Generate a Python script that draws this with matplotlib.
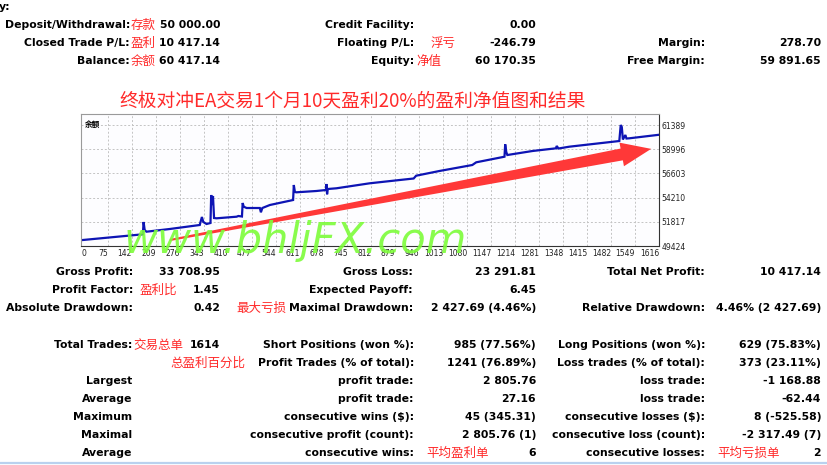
import matplotlib
matplotlib.use('Agg')
import matplotlib.pyplot as plt
from matplotlib.patches import Polygon
from matplotlib.lines import Line2D

W, H = 827, 465

# ── balance curve ─────────────────────────────────────────────────────────────
trades = [0, 173, 175, 178, 183, 248, 332, 338, 342, 351, 362, 364, 367, 369,
          372, 379, 435, 440, 450, 452, 455, 463, 500, 503, 507, 528, 593, 595,
          598, 602, 658, 685, 686, 688, 690, 714, 807, 891, 930, 937, 1002,
          1094, 1105, 1184, 1186, 1189, 1192, 1262, 1328, 1330, 1335, 1365,
          1505, 1509, 1512, 1515, 1522, 1525, 1533, 1614]
balance = [50000, 50581, 51798, 51006, 50838, 51105, 51501, 52292, 51798,
           51600, 51699, 54468, 53479, 54369, 52193, 52163, 52322, 52391,
           52342, 53677, 53311, 53182, 53182, 52757, 53182, 53479, 53973,
           55457, 54765, 54735, 54864, 54963, 55556, 54537, 55062, 55131,
           55625, 55951, 56100, 56377, 56842, 57435, 57702, 58256, 59483,
           58721, 58424, 58819, 59086, 59314, 59067, 59245, 59808, 61391,
           61193, 59957, 60402, 60056, 60076, 60417]

x_ticks = [0] + list(range(75, 1617, 67))
y_ticks = [49424, 51817, 54210, 56603, 58996, 61389]

title = '终极对冲EA交易1个月10天盈利20%的盈利净值图和结果'

# ── report texts ──────────────────────────────────────────────────────────────
top_labels_l = ['Deposit/Withdrawal:', 'Closed Trade P/L:', 'Balance:']
top_notes_l = ['存款', '盈利', '余额']
top_values_l = ['50 000.00', '10 417.14', '60 417.14']
top_labels_m = ['Credit Facility:', 'Floating P/L:', 'Equity:']
top_values_m = ['0.00', '-246.79', '60 170.35']
top_labels_r = ['', 'Margin:', 'Free Margin:']
top_values_r = ['', '278.70', '59 891.65']

mid_labels_l = ['Gross Profit:', 'Profit Factor:', 'Absolute Drawdown:']
mid_values_l = ['33 708.95', '1.45', '0.42']
mid_labels_m = ['Gross Loss:', 'Expected Payoff:', 'Maximal Drawdown:']
mid_values_m = ['23 291.81', '6.45', '2 427.69 (4.46%)']
mid_labels_r = ['Total Net Profit:', '', 'Relative Drawdown:']
mid_values_r = ['10 417.14', '', '4.46% (2 427.69)']

low_labels_l = ['Total Trades:', '', 'Largest', 'Average', 'Maximum', 'Maximal', 'Average']
low_values_l = ['1614', '', '', '', '', '', '']
low_labels_m = ['Short Positions (won %):', 'Profit Trades (% of total):', 'profit trade:',
                'profit trade:', 'consecutive wins ($):', 'consecutive profit (count):',
                'consecutive wins:']
low_values_m = ['985 (77.56%)', '1241 (76.89%)', '2 805.76', '27.16', '45 (345.31)',
                '2 805.76 (1)', '6']
low_labels_r = ['Long Positions (won %):', 'Loss trades (% of total):', 'loss trade:',
                'loss trade:', 'consecutive losses ($):', 'consecutive loss (count):',
                'consecutive losses:']
low_values_r = ['629 (75.83%)', '373 (23.11%)', '-1 168.88', '-62.44', '8 (-525.58)',
                '-2 317.49 (7)', '2']

RED = '#ff2a2a'
EN = dict(family=['DejaVu Sans'], fontweight='bold', fontsize=7.8)
CN = dict(family=['Noto Sans CJK SC', 'DejaVu Sans'], fontsize=9, color=RED)

fig = plt.figure(figsize=(W / 100, H / 100), dpi=100)
fig.patch.set_facecolor('white')


def put(x, y, s, ha='right', style=EN, **kw):
    fig.text(x / W, 1 - y / H, s, ha=ha, va='center', **style, **kw)


def column(xl, xv, ys, labels, values):
    for y, lab, val in zip(ys, labels, values):
        if lab:
            put(xl, y, lab)
        if val:
            put(xv, y, val)


put(-1, 7, 'y:', ha='left')

rows_top = [25, 43, 61]
column(130, 220, rows_top, top_labels_l, top_values_l)
column(414, 536, rows_top, top_labels_m, top_values_m)
column(705, 821, rows_top, top_labels_r, top_values_r)
for y, note in zip(rows_top, top_notes_l):
    put(131, y, note, ha='left', style=CN)
put(431, 43, '浮亏', ha='left', style=CN)
put(416, 61, '净值', ha='left', style=CN)

rows_mid = [272, 290, 308]
column(133, 220, rows_mid, mid_labels_l, mid_values_l)
column(413, 536, rows_mid, mid_labels_m, mid_values_m)
column(705, 821, rows_mid, mid_labels_r, mid_values_r)
put(140, 290, '盈利比', ha='left', style=CN)
put(236, 308, '最大亏损', ha='left', style=CN)

rows_low = [345, 363, 381, 399, 417, 435, 453]
column(132, 220, rows_low, low_labels_l, low_values_l)
column(414, 536, rows_low, low_labels_m, low_values_m)
column(705, 821, rows_low, low_labels_r, low_values_r)
put(133, 345, '交易总单', ha='left', style=CN)
put(245, 363, '总盈利百分比', ha='right', style=CN)
put(426, 453, '平均盈利单', ha='left', style=CN)
put(717, 453, '平均亏损单', ha='left', style=CN)

fig.add_artist(Line2D([0, 1], [1 - 463 / H] * 2, color='#b9d1ee', lw=1.6))

# ── equity chart ──────────────────────────────────────────────────────────────
ax = fig.add_axes([81 / W, 1 - 246 / H, 578 / W, 132 / H])
ax.set_facecolor('#fdfdff')
ax.plot(trades, balance, color='#0d14b4', lw=1.6, solid_joinstyle='miter')
ax.set_xlim(0, 1616)
ax.set_ylim(49424, 62480)
ax.set_xticks(x_ticks, [str(t) for t in x_ticks])
ax.set_yticks(y_ticks, [str(v) for v in y_ticks])
ax.yaxis.tick_right()
ax.tick_params(length=0, labelsize=5.5, pad=2, colors='#222222')
for i, lab in enumerate(ax.get_xticklabels()):
    lab.set_ha('left' if i == 0 else 'right')
ax.grid(True, color='#c4c4c4', ls=(0, (2, 2)), lw=0.7)
for side in ['left', 'top']:
    ax.spines[side].set_color('#9a9a9a')
for side in ['right', 'bottom']:
    ax.spines[side].set_color('#333333')
ax.text(0.006, 0.955, '余额', transform=ax.transAxes, ha='left', va='top',
        family=['Noto Sans CJK SC'], fontsize=5.5, fontweight='bold')

fig.text(353 / W, 1 - 101 / H, title, ha='center', va='center', color=RED,
         family=['Noto Sans CJK SC', 'DejaVu Sans'], fontsize=13.5)

# red tapered arrow, in pixel space
tail = (170.0, 240.0)
ux, uy = 0.982, -0.186
nx, ny = 0.186, 0.982
def at(d, w):
    return (tail[0] + d * ux + w * nx, tail[1] + d * uy + w * ny)
pts = [at(0, -1), at(460, -6), at(460, -12), at(490, 0), at(460, 12), at(460, 6), at(0, 1)]
fig.add_artist(Polygon([(px / W, 1 - py / H) for px, py in pts], closed=True,
                       transform=fig.transFigure, color='#ff3838', lw=0))

fig.text(123 / W, 1 - 253 / H, 'www.bhljFX.com', ha='left', va='baseline',
         color='#7dfc3a', alpha=0.9, style='italic', fontsize=30,
         family=['DejaVu Sans'])

fig.savefig('out.png', dpi=100)
